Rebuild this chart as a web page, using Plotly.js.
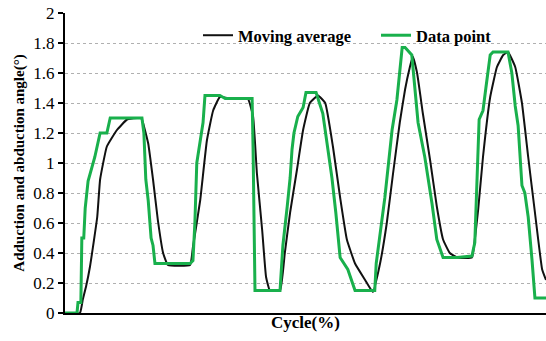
<!DOCTYPE html>
<html><head><meta charset="utf-8">
<script src="https://cdn.plot.ly/plotly-3.0.1.min.js"></script>
<style>html,body{margin:0;padding:0;background:#fff}#c{width:546px;height:341px}</style>
</head><body><div id="c"></div>
<script>
// Cycle (%) positions and angle values
const dataX = [0,2.5,2.7,3.3,3.5,3.9,4.2,4.8,6.2,6.9,7.3,8.7,9.4,16.0,16.4,16.8,17.3,17.9,18.3,18.7,26.0,26.6,27.0,27.4,28.3,28.7,29.1,32.2,33.3,38.9,39.1,39.5,44.7,45.3,46.2,46.8,47.2,47.6,48.4,49.5,50.1,52.2,53.6,55.5,56.3,57.2,58.8,60.3,64.4,64.7,66.5,68.0,69.0,69.6,70.1,70.7,72.1,73.4,74.8,76.3,77.3,78.6,81.5,84.6,85.2,86.1,86.9,87.5,88.4,89.0,92.1,92.9,93.6,94.2,95.0,95.6,96.3,97.1,97.7,100];
const dataY = [0,0,0.07,0.07,0.5,0.5,0.7,0.88,1.04,1.14,1.2,1.2,1.3,1.3,1.2,0.89,0.75,0.5,0.45,0.33,0.33,0.35,0.6,1.0,1.17,1.27,1.45,1.45,1.43,1.43,1.1,0.15,0.15,0.45,0.71,0.9,1.09,1.2,1.31,1.37,1.47,1.47,1.33,0.9,0.67,0.37,0.29,0.15,0.15,0.33,0.77,1.22,1.42,1.62,1.77,1.77,1.72,1.27,1.04,0.73,0.49,0.37,0.37,0.38,0.47,1.29,1.35,1.5,1.72,1.74,1.74,1.6,1.38,1.25,0.85,0.8,0.64,0.35,0.1,0.1];
const avgX = [0,3.1,3.7,4.4,5.2,6.7,7.3,8.7,10.8,12.9,15.0,15.8,16.2,17.3,18.3,19.3,20.4,21.4,26.0,26.6,28.1,29.5,30.8,32.2,34.3,38.0,39.1,39.9,41.0,41.8,42.6,44.7,45.7,46.8,48.2,49.5,50.9,52.6,54.1,55.7,57.2,58.6,60.3,62.4,64.0,65.5,66.9,68.2,69.6,70.7,71.7,72.3,73.2,74.4,75.9,77.3,78.6,80.0,81.5,84.6,85.2,85.9,86.9,88.4,89.8,91.1,92.1,93.6,95.0,96.3,97.7,99.2,100];
const avgY = [0,0,0.09,0.18,0.31,0.64,0.89,1.11,1.22,1.29,1.3,1.3,1.27,1.13,0.89,0.62,0.4,0.32,0.32,0.44,0.75,1.15,1.35,1.44,1.43,1.43,1.31,0.93,0.55,0.24,0.15,0.15,0.4,0.67,0.95,1.22,1.4,1.45,1.4,1.11,0.77,0.49,0.33,0.22,0.14,0.33,0.6,0.93,1.27,1.49,1.64,1.71,1.6,1.33,1.02,0.71,0.49,0.4,0.37,0.37,0.49,0.69,1.04,1.44,1.64,1.72,1.74,1.64,1.4,1.04,0.67,0.29,0.22];
const yTicks = [0,0.2,0.4,0.6,0.8,1,1.2,1.4,1.6,1.8,2];
const yTickText = ['0','0.2','0.4','0.6','0.8','1','1.2','1.4','1.6','1.8','2'];

const serif = 'Liberation Serif, Times New Roman, serif';
const legFont = {family: serif, size: 16.5, weight: 'bold', color: '#000'};
const traces = [
  {x: avgX, y: avgY, name: 'Moving average', mode: 'lines', legend: 'legend',
   line: {color: '#111111', width: 2, shape: 'spline', smoothing: 0.35}},
  {x: dataX, y: dataY, name: 'Data point', mode: 'lines', legend: 'legend2',
   line: {color: '#19b04c', width: 3}}
];
const layout = {
  width: 546, height: 341,
  margin: {l: 65, r: 0, t: 13, b: 28},
  paper_bgcolor: '#fff', plot_bgcolor: '#fff',
  font: {family: serif, color: '#000', size: 16},
  showlegend: true,
  legend: {orientation: 'h', x: 0.2765, y: 0.925, xanchor: 'left', yanchor: 'middle',
    bgcolor: 'rgba(0,0,0,0)', font: legFont},
  legend2: {orientation: 'h', x: 0.6466, y: 0.925, xanchor: 'left', yanchor: 'middle',
    bgcolor: 'rgba(0,0,0,0)', font: legFont},
  xaxis: {range: [0, 100], showticklabels: false, ticks: '', showgrid: false,
    zeroline: false, showline: true, linecolor: '#000', linewidth: 2,
    title: {text: '<b>Cycle(%)</b>', font: {family: serif, size: 17}, standoff: 2}},
  yaxis: {range: [0, 2], tickvals: yTicks, ticktext: yTickText, ticks: 'outside',
    ticklen: 5, tickwidth: 1.5, tickcolor: '#000', showline: true, linecolor: '#000', linewidth: 2,
    showgrid: true, gridcolor: '#b0b0b0', griddash: 'dot', gridwidth: 1, zeroline: false,
    tickfont: {family: serif, size: 17},
    title: {text: '<b>Adduction and abduction angle(°)</b>', font: {family: serif, size: 15}, standoff: 5}}
};
Plotly.newPlot('c', traces, layout, {displayModeBar: false, staticPlot: true});
</script></body></html>
